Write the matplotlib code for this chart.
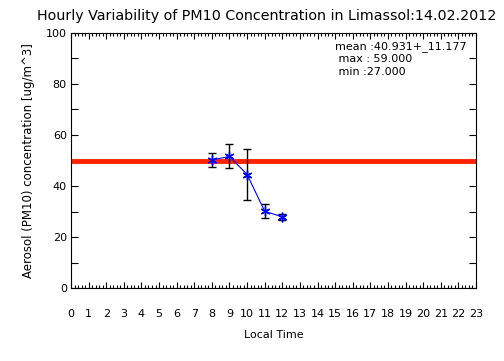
import matplotlib
matplotlib.use('Agg')
import matplotlib.pyplot as plt
from matplotlib.ticker import MultipleLocator
import numpy as np

# hourly means and std devs
hours = [8, 9, 10, 11, 12]
pm10 = [50.2, 51.6, 44.5, 30.1, 27.9]
pm10_err = [2.6, 4.7, 9.9, 2.8, 1.3]
limit_value = 50
stats_text = ['mean :40.931+_11.177', ' max : 59.000', ' min :27.000']

plt.rcParams['font.family'] = 'DejaVu Sans'

fig = plt.figure(figsize=(5.04, 3.61), dpi=100)
ax = fig.add_axes([71/504, 1-288/361, 405/504, 255/361])

ax.axhline(limit_value, color='#ff2200', lw=3.5, zorder=2)
ax.errorbar(hours, pm10, yerr=pm10_err, fmt='none', ecolor='black',
            elinewidth=1, capsize=3, capthick=1, zorder=3)
ax.plot(hours, pm10, color='blue', lw=0.8, marker=(6, 2, 0),
        markersize=7, markeredgewidth=1, zorder=4)

ax.set_xlim(0, 23)
ax.set_ylim(0, 100)
ax.xaxis.set_major_locator(MultipleLocator(1))
ax.xaxis.set_minor_locator(MultipleLocator(0.2))
ax.yaxis.set_major_locator(MultipleLocator(20))
ax.yaxis.set_minor_locator(MultipleLocator(10))
ax.tick_params(which='both', direction='in', top=True, right=True,
               labelsize=8, width=0.8)
ax.tick_params(axis='x', which='major', length=4, pad=15)
ax.tick_params(axis='x', which='minor', length=2)
ax.tick_params(axis='y', which='major', length=5, pad=3)
ax.tick_params(axis='y', which='minor', length=5)
for s in ax.spines.values():
    s.set_linewidth(0.8)

ax.set_xlabel('Local Time', fontsize=8, labelpad=8)
ax.set_ylabel('Aerosol (PM10) concentration [ug/m^3]', fontsize=8.5, labelpad=8)
fig.text(37/504, 1-16/361,
         'Hourly Variability of PM10 Concentration in Limassol:14.02.2012',
         fontsize=10.3, ha='left', va='center')

for i, t in enumerate(stats_text):
    ax.text(335/504, 1-(47+12.5*i)/361, t, transform=fig.transFigure,
            fontsize=8, va='center', ha='left')

fig.savefig('out.png', dpi=100)
